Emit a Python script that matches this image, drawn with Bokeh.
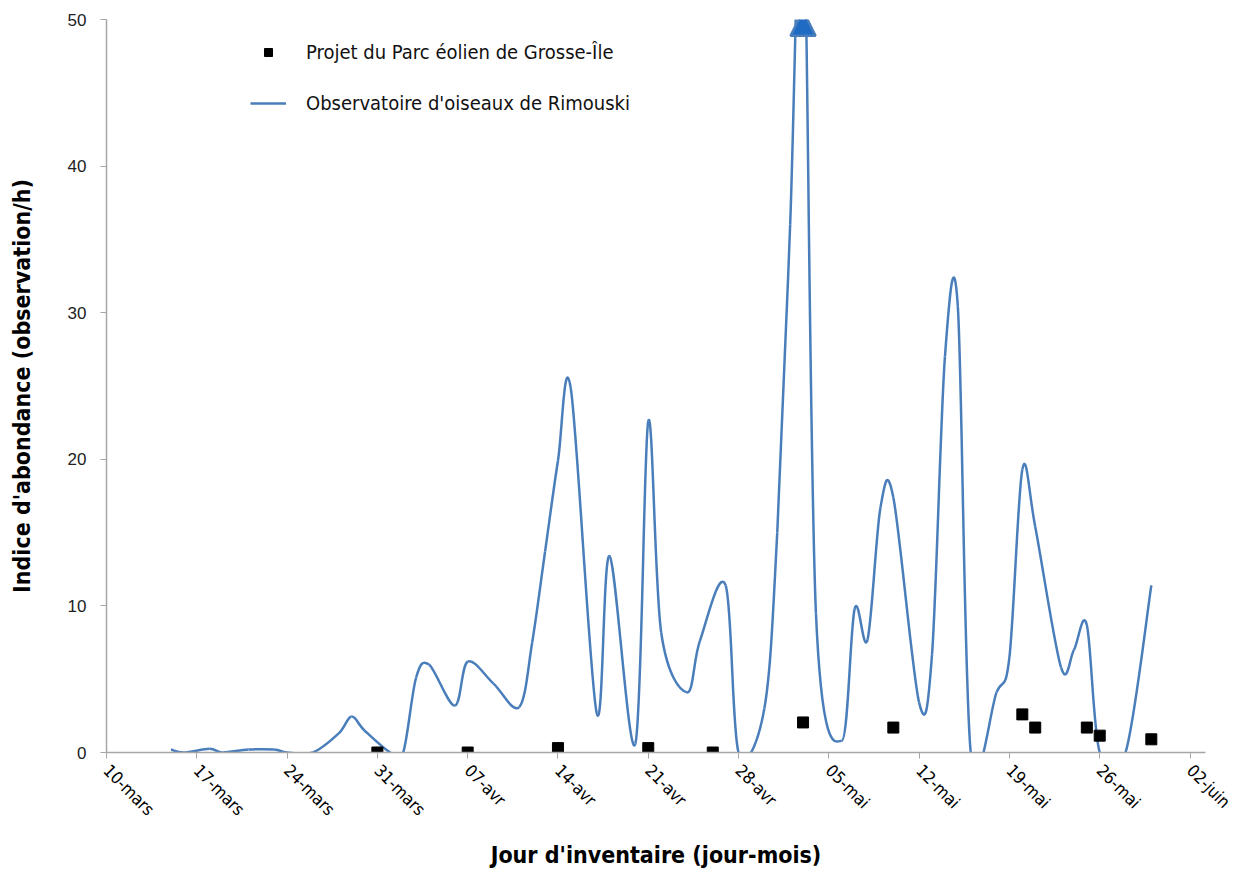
import numpy as np
import pandas as pd
from bokeh.plotting import figure
from bokeh.models import Range1d, FixedTicker, Legend, LegendItem, Arrow, NormalHead
from bokeh.embed import file_html
from bokeh.resources import INLINE

YEAR = 2011
START = "03-10"

# Observatoire d'oiseaux de Rimouski (observation/h)
rimouski_dates = ["03-15", "03-16", "03-18", "03-19", "03-21", "03-23", "03-24", "03-26",
                  "03-28", "03-29", "03-30", "04-01", "04-02", "04-03", "04-04", "04-06",
                  "04-07", "04-09", "04-11", "04-12", "04-13", "04-14", "04-15", "04-17",
                  "04-18", "04-20", "04-21", "04-22", "04-24", "04-25", "04-27", "04-28",
                  "04-30", "05-01", "05-02", "05-03", "05-04", "05-06", "05-07", "05-08",
                  "05-09", "05-10", "05-12", "05-13", "05-14", "05-15", "05-16", "05-18",
                  "05-19", "05-20", "05-21", "05-23", "05-24", "05-25", "05-26", "05-28",
                  "05-30"]
rimouski_values = [0.2, 0.0, 0.25, 0.0, 0.2, 0.2, 0.0, 0.0,
                   1.3, 2.45, 1.5, 0.0, 0.0, 5.1, 6.0, 3.2,
                   6.2, 4.7, 3.1, 7.5, 13.7, 19.9, 24.8, 2.7,
                   13.4, 0.6, 22.6, 8.2, 4.1, 7.6, 11.4, 0.0,
                   3.0, 15.0, 36.0, 60.0, 9.5, 0.8, 9.8, 7.7,
                   16.7, 17.4, 3.4, 6.7, 27.0, 30.4, 0.0, 4.1,
                   6.5, 19.3, 15.4, 5.8, 7.0, 8.7, 0.0, 0.0,
                   11.4]

# Projet du Parc éolien de Grosse-Île (observation/h)
projet_dates = ["03-31", "04-07", "04-14", "04-21", "04-26", "05-03", "05-10",
                "05-20", "05-21", "05-25", "05-26", "05-30"]
projet_values = [0.0, 0.0, 0.3, 0.3, 0.0, 2.05, 1.7, 2.6, 1.7, 1.7, 1.15, 0.9]

tick_dates = ["03-10", "03-17", "03-24", "03-31", "04-07", "04-14", "04-21",
              "04-28", "05-05", "05-12", "05-19", "05-26", "06-02"]
tick_labels = ["10-mars", "17-mars", "24-mars", "31-mars", "07-avr", "14-avr", "21-avr",
               "28-avr", "05-mai", "12-mai", "19-mai", "26-mai", "02-juin"]
y_ticks = [0, 10, 20, 30, 40, 50]

LINE_COLOR = "#4A7EBB"
AXIS_COLOR = "#A6A6A6"
NARROW = "'Liberation Sans Narrow', 'Arial Narrow', 'DejaVu Sans Condensed', sans-serif"
REGULAR = "'Liberation Sans', Arial, sans-serif"


def to_day(s):
    return (pd.Timestamp(f"{YEAR}-{s}") - pd.Timestamp(f"{YEAR}-{START}")).days


rx = np.array([to_day(s) for s in rimouski_dates], dtype=float)
ry = np.array(rimouski_values, dtype=float)
px = np.array([to_day(s) for s in projet_dates], dtype=float)
py = np.array(projet_values, dtype=float)
tick_days = [to_day(s) for s in tick_dates]

# Smoothed line (Excel-like Catmull-Rom Bezier segments through the data points)
n = len(rx)
x0, y0, x1, y1, cx0, cy0, cx1, cy1 = ([] for _ in range(8))
for i in range(n - 1):
    ip = max(i - 1, 0)
    inn = min(i + 2, n - 1)
    x0.append(rx[i]); y0.append(ry[i])
    x1.append(rx[i + 1]); y1.append(ry[i + 1])
    cx0.append(rx[i] + (rx[i + 1] - rx[ip]) / 6.0)
    cy0.append(ry[i] + (ry[i + 1] - ry[ip]) / 6.0)
    cx1.append(rx[i + 1] - (rx[inn] - rx[i]) / 6.0)
    cy1.append(ry[i + 1] - (ry[inn] - ry[i]) / 6.0)

y_max = 50
x_end = 85.2
p = figure(width=1236, height=870, output_backend="svg", toolbar_location=None,
           x_range=Range1d(0, x_end), y_range=Range1d(0, y_max),
           min_border_left=106, min_border_top=19, min_border_right=31, min_border_bottom=118)
p.outline_line_color = None
p.xgrid.grid_line_color = None
p.ygrid.grid_line_color = None
p.background_fill_color = "white"

curve = p.bezier(x0=x0, y0=y0, x1=x1, y1=y1, cx0=cx0, cy0=cy0, cx1=cx1, cy1=cy1,
                 line_color=LINE_COLOR, line_width=2.5)
legend_line = p.line(x=[np.nan], y=[np.nan], line_color=LINE_COLOR, line_width=2.5)
sq = p.scatter(px, py, marker="square", size=11, fill_color="black", line_color="black")

# overflow marker at the top of the axis for the clipped peak
imax = int(np.argmax(ry))
p.add_layout(Arrow(end=NormalHead(size=25, fill_color="#1F6BC4", line_color=LINE_COLOR, line_width=2.5),
                   x_start=rx[imax], y_start=y_max - 2, x_end=rx[imax], y_end=y_max + 0.6,
                   line_alpha=0))

xa = p.xaxis[0]
xa.ticker = FixedTicker(ticks=tick_days)
xa.major_label_overrides = {d: lab for d, lab in zip(tick_days, tick_labels)}
xa.major_label_orientation = -np.pi / 4
xa.minor_tick_line_color = None
xa.major_tick_in = 0
xa.major_tick_out = 6
xa.axis_line_color = AXIS_COLOR
xa.major_tick_line_color = AXIS_COLOR
xa.axis_line_width = 1.5
xa.major_label_text_font = NARROW
xa.major_label_text_font_size = "17px"
xa.major_label_text_color = "black"
xa.major_label_standoff = 9
xa.axis_label = "Jour d'inventaire (jour-mois)"
xa.axis_label_text_font = NARROW
xa.axis_label_text_font_style = "bold"
xa.axis_label_text_font_size = "23px"
xa.axis_label_text_color = "black"
xa.axis_label_standoff = 12

ya = p.yaxis[0]
ya.ticker = FixedTicker(ticks=y_ticks)
ya.minor_tick_line_color = None
ya.major_tick_in = 0
ya.major_tick_out = 6
ya.axis_line_color = AXIS_COLOR
ya.major_tick_line_color = AXIS_COLOR
ya.axis_line_width = 1.5
ya.major_label_text_font = REGULAR
ya.major_label_text_font_size = "17px"
ya.major_label_text_color = "#222222"
ya.major_label_standoff = 14
ya.axis_label = "Indice d'abondance (observation/h)"
ya.axis_label_text_font = NARROW
ya.axis_label_text_font_style = "bold"
ya.axis_label_text_font_size = "23px"
ya.axis_label_text_color = "black"
ya.axis_label_standoff = 30

legend = Legend(items=[LegendItem(label="Projet du Parc éolien de Grosse-Île", renderers=[sq]),
                       LegendItem(label="Observatoire d'oiseaux de Rimouski", renderers=[legend_line])],
                location=(144, 637), border_line_color=None, background_fill_alpha=0,
                glyph_width=36, glyph_height=20, label_standoff=20, spacing=27, padding=0,
                label_text_font=NARROW, label_text_font_size="20px", label_text_color="#111111")
p.add_layout(legend)

open("out.html", "w").write(file_html(p, INLINE))
